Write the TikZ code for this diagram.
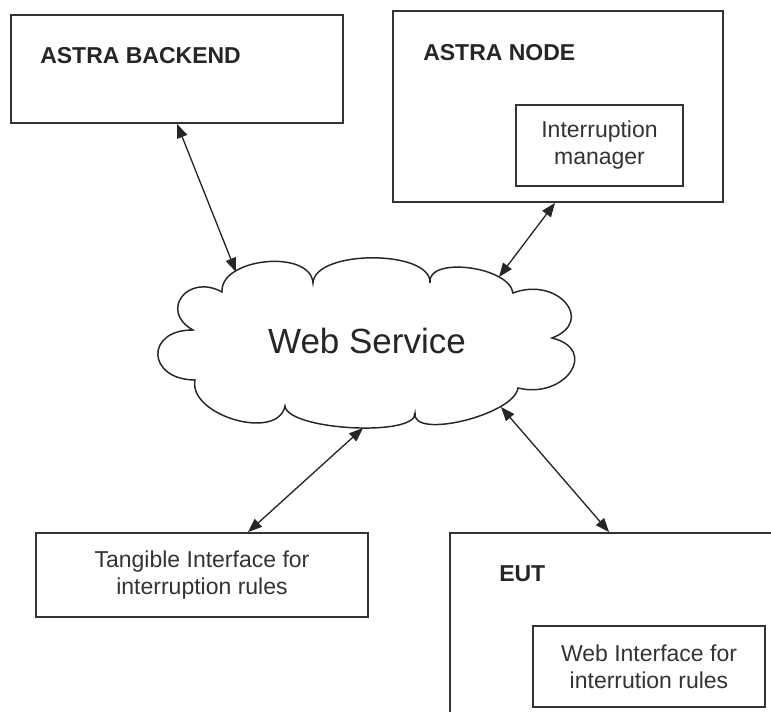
\documentclass[tikz,border=0pt]{standalone}
\usepackage{fontspec}
\setmainfont{Liberation Sans}
\usetikzlibrary{arrows.meta,calc,fit}

\begin{document}
\begin{tikzpicture}[x=0.75pt,y=-0.75pt,
  box/.style={draw=black!80, line width=1.3pt, inner sep=0pt},
  title/.style={font=\fontsize{17.25}{20.25}\selectfont\bfseries, text=black!85, inner sep=0pt},
  txt/.style={font=\fontsize{17.25}{20.25}\selectfont, text=black!80, align=center, inner sep=0pt},
  link/.style={line width=1pt, draw=black!85,
    arrows={Triangle[length=10.5pt,width=8pt]-Triangle[length=10.5pt,width=8pt]}},
  cloudline/.style={draw=black!85, line width=1.1pt},
  % one rounded lobe of the cloud from #1 to #2, bulging through #3
  bump/.style n args={3}{insert path={
    .. controls ($0.333*(#1)+1.333*(#3)-0.667*(#2)$)
           and ($0.333*(#2)+1.333*(#3)-0.667*(#1)$) .. (#2)}}
]
\useasboundingbox (0,0) rectangle (771,711);
\clip (0,0) rectangle (771,711);

% ---- boxes ----
\node[box, fit={(11,15) (343,123)}] (backend) {};
\node[title, anchor=base west] (backendlbl) at (40,63) {ASTRA BACKEND};

\node[box, fit={(393,11) (723,202)}] (astranode) {};
\node[title, anchor=base west] (astranodelbl) at (423,60) {ASTRA NODE};
\node[box, fit={(516,105) (683,186)}] (intmgr) {};
\node[txt] (intmgrlbl) at (intmgr.center) {Interruption\\manager};

\node[box, fit={(36,533) (368,617)}] (tangible) {};
\node[txt] (tangiblelbl) at (tangible.center) {Tangible Interface for\\interruption rules};

\node[box, fit={(450,533) (800,740)}] (eut) {};
\node[title, anchor=base west] (eutlbl) at (499,581) {EUT};
\node[box, fit={(533,626) (765,707)}] (webif) {};
\node[txt] (webiflbl) at (webif.center) {Web Interface for\\interrution rules};

% ---- cloud ----
\coordinate (p1) at (222,292);  \coordinate (m1) at (266,262);
\coordinate (p2) at (313,283);  \coordinate (m2) at (373,258);
\coordinate (p3) at (430,283);  \coordinate (m3) at (469,268);
\coordinate (p4) at (513,293);  \coordinate (m4) at (566,303);
\coordinate (p5) at (552,338);  \coordinate (m5) at (571,372);
\coordinate (p6) at (518,388);  \coordinate (m6) at (464,421);
\coordinate (p7) at (415,413);  \coordinate (m7) at (352,428);
\coordinate (p8) at (285,406);  \coordinate (m8) at (235,420);
\coordinate (p9) at (195,380);  \coordinate (m9) at (158,355);
\coordinate (p10) at (193,330); \coordinate (m10) at (182,297);

\draw[cloudline] (p1)
  [bump={p1}{p2}{m1}] [bump={p2}{p3}{m2}] [bump={p3}{p4}{m3}]
  [bump={p4}{p5}{m4}] [bump={p5}{p6}{m5}] [bump={p6}{p7}{m6}]
  [bump={p7}{p8}{m7}] [bump={p8}{p9}{m8}] [bump={p9}{p10}{m9}]
  [bump={p10}{p1}{m10}] -- cycle;
\node[font=\fontsize{26.25}{30}\selectfont, text=black!85, anchor=base, inner sep=0pt]
  (ws) at (367,353) {Web Service};

% attachment points on the cloud outline
\coordinate (c1) at (236,272);
\coordinate (c2) at (499,277);
\coordinate (c3) at (363,428);
\coordinate (c4) at (501,407);

% ---- connectors ----
\draw[link] (backend.south) -- (c1);
\draw[link] ([xshift=-2.25pt]astranode.south) -- (c2);
\draw[link] (c3) -- ([xshift=34.5pt]tangible.north);
\draw[link] (c4) -- ([xshift=120pt]eut.north west);
\end{tikzpicture}
\end{document}
